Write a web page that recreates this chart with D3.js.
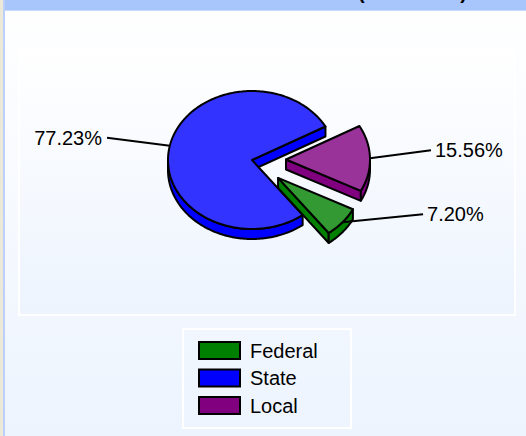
<!DOCTYPE html>
<html>
<head>
<meta charset="utf-8">
<script src="https://cdn.jsdelivr.net/npm/d3@7"></script>
<style>
    body { margin: 0; overflow: hidden; }
    text { font-family: "Liberation Sans", Arial, sans-serif; }
</style>
</head>
<body>
<script>
// data
const categories = ["Federal", "State", "Local"];
const shares = [7.20, 77.23, 15.56];
const colors = ["#008000", "#0000ff", "#800080"];
const exploded = [true, false, true];
const chartTitle = "Total Revenue Sources (2006-2007)";

window.onload = function () {
    const vis = {};
    vis.width = 526;
    vis.height = 436;

    vis.svg = d3.select("body")
        .append("svg")
        .attr("width", vis.width)
        .attr("height", vis.height);

    const defs = vis.svg.append("defs");
    const grad = defs.append("linearGradient")
        .attr("id", "bg")
        .attr("x1", 0).attr("y1", 0).attr("x2", 0).attr("y2", 1);
    grad.append("stop").attr("offset", "0%").attr("stop-color", "#ffffff");
    grad.append("stop").attr("offset", "100%").attr("stop-color", "#edf4fe");

    //page background
    vis.svg.append("rect")
        .attr("x", 0).attr("y", 0)
        .attr("width", vis.width).attr("height", vis.height)
        .attr("fill", "url(#bg)");

    //window frame bits
    vis.svg.append("rect")
        .attr("x", 0).attr("y", 0).attr("width", 3).attr("height", vis.height)
        .attr("fill", "#ece9d8");
    vis.svg.append("rect")
        .attr("x", 3).attr("y", 0).attr("width", 2).attr("height", vis.height)
        .attr("fill", "#bcd0fb");
    vis.svg.append("rect")
        .attr("x", 5).attr("y", 0).attr("width", vis.width).attr("height", 10)
        .attr("fill", "#a9c6fc");
    vis.svg.append("rect")
        .attr("x", 5).attr("y", 10).attr("width", vis.width).attr("height", 1)
        .attr("fill", "#c9dbfd");

    //title, mostly scrolled off the top (as in the screenshot)
    vis.svg.append("text")
        .attr("x", 467).attr("y", -1)
        .attr("text-anchor", "end")
        .style("font-size", "20px")
        .style("font-weight", "bold")
        .text(chartTitle);

    //plot panel
    vis.svg.append("rect")
        .attr("x", 19).attr("y", 48)
        .attr("width", 496).attr("height", 267)
        .attr("fill", "url(#bg)")
        .attr("stroke", "#ffffff")
        .attr("stroke-width", 2);

    // 3D pie
    const cx = 252, cy = 160, rx = 84, ry = 69, depth = 10, explode = 34;
    const ratio = ry / rx;
    const start = 117 * Math.PI / 180;
    const sw = 2;

    const data = categories.map((c, i) => ({
        name: c, value: shares[i], color: colors[i], exploded: exploded[i]
    }));

    const pie = d3.pie()
        .sort(null)
        .value(d => d.value)
        .startAngle(start)
        .endAngle(start + 2 * Math.PI);

    const line = d3.line();

    const slices = pie(data).map(a => {
        const t0 = a.startAngle - Math.PI / 2;
        const t1 = a.endAngle - Math.PI / 2;
        const mid = (t0 + t1) / 2;
        const ox = a.data.exploded ? explode * Math.cos(mid) : 0;
        const oy = a.data.exploded ? explode * ratio * Math.sin(mid) : 0;
        return {a: a, t0: t0, t1: t1, mid: mid, ox: ox, oy: oy};
    });

    function pt(s, t, z) {
        return [cx + s.ox + rx * Math.cos(t), cy + s.oy + ry * Math.sin(t) + (z || 0)];
    }

    function arcPts(s, a, b, z) {
        const n = Math.max(2, Math.ceil(Math.abs(b - a) / 0.02));
        return d3.range(n + 1).map(i => pt(s, a + (b - a) * i / n, z));
    }

    const pieG = vis.svg.append("g");

    slices.slice().sort((p, q) => p.oy - q.oy).forEach(s => {
        const g = pieG.append("g");
        const top = d3.interpolateRgb(s.a.data.color, "#ffffff")(0.2);
        const side = s.a.data.color;
        const c0 = [cx + s.ox, cy + s.oy];
        const c1 = [c0[0], c0[1] + depth];

        //cut walls facing the viewer
        const walls = [];
        if (Math.cos(s.t0) < 0) walls.push([c0, pt(s, s.t0), pt(s, s.t0, depth), c1]);
        if (Math.cos(s.t1) > 0) walls.push([c0, pt(s, s.t1), pt(s, s.t1, depth), c1]);

        //outer wall, front half only
        for (let k = -1; k <= 2; k++) {
            const lo = Math.max(s.t0, 2 * Math.PI * k);
            const hi = Math.min(s.t1, 2 * Math.PI * k + Math.PI);
            if (hi > lo) {
                walls.push(arcPts(s, lo, hi, 0).concat(arcPts(s, hi, lo, depth)));
            }
        }

        g.selectAll("path.wall")
            .data(walls)
            .enter()
            .append("path")
            .attr("class", "wall")
            .attr("d", d => line(d) + "Z")
            .attr("fill", side)
            .attr("stroke", "#000").attr("stroke-width", sw)
            .attr("stroke-linejoin", "round");

        //top face
        g.append("path")
            .attr("d", line([c0].concat(arcPts(s, s.t0, s.t1, 0))) + "Z")
            .attr("fill", top)
            .attr("stroke", "#000").attr("stroke-width", sw)
            .attr("stroke-linejoin", "round");
    });

    //labels with leader lines
    const fmt = d3.format(".2f");
    slices.forEach(s => {
        const right = Math.cos(s.mid) > 0;
        const e = pt(s, s.mid);
        const endX = cx + s.ox + (right ? 1 : -1) * (rx + 61);
        const endY = e[1] - 8;
        vis.svg.append("line")
            .attr("x1", e[0]).attr("y1", e[1])
            .attr("x2", endX).attr("y2", endY)
            .attr("stroke", "#000").attr("stroke-width", 2);
        vis.svg.append("text")
            .attr("x", endX + (right ? 4 : -5))
            .attr("y", endY)
            .attr("dy", "0.35em")
            .attr("text-anchor", right ? "start" : "end")
            .style("font-size", "20px")
            .text(fmt(s.a.data.value) + "%");
    });

    //legend
    vis.svg.append("rect")
        .attr("x", 183).attr("y", 329)
        .attr("width", 168).attr("height", 99)
        .attr("fill", "none")
        .attr("stroke", "#ffffff")
        .attr("stroke-width", 2);

    const rowY = d3.scalePoint()
        .domain(categories)
        .range([350.5, 405.5]);

    const leg = vis.svg.append("g").selectAll("g")
        .data(data)
        .enter()
        .append("g")
        .attr("transform", d => "translate(199," + rowY(d.name) + ")");

    leg.append("rect")
        .attr("x", 0).attr("y", -8.5)
        .attr("width", 41).attr("height", 17)
        .attr("fill", d => d.color)
        .attr("stroke", "#000")
        .attr("stroke-width", 2);

    leg.append("text")
        .attr("x", 51).attr("y", 0)
        .attr("dy", "0.35em")
        .style("font-size", "20px")
        .text(d => d.name);
};
</script>
</body>
</html>
